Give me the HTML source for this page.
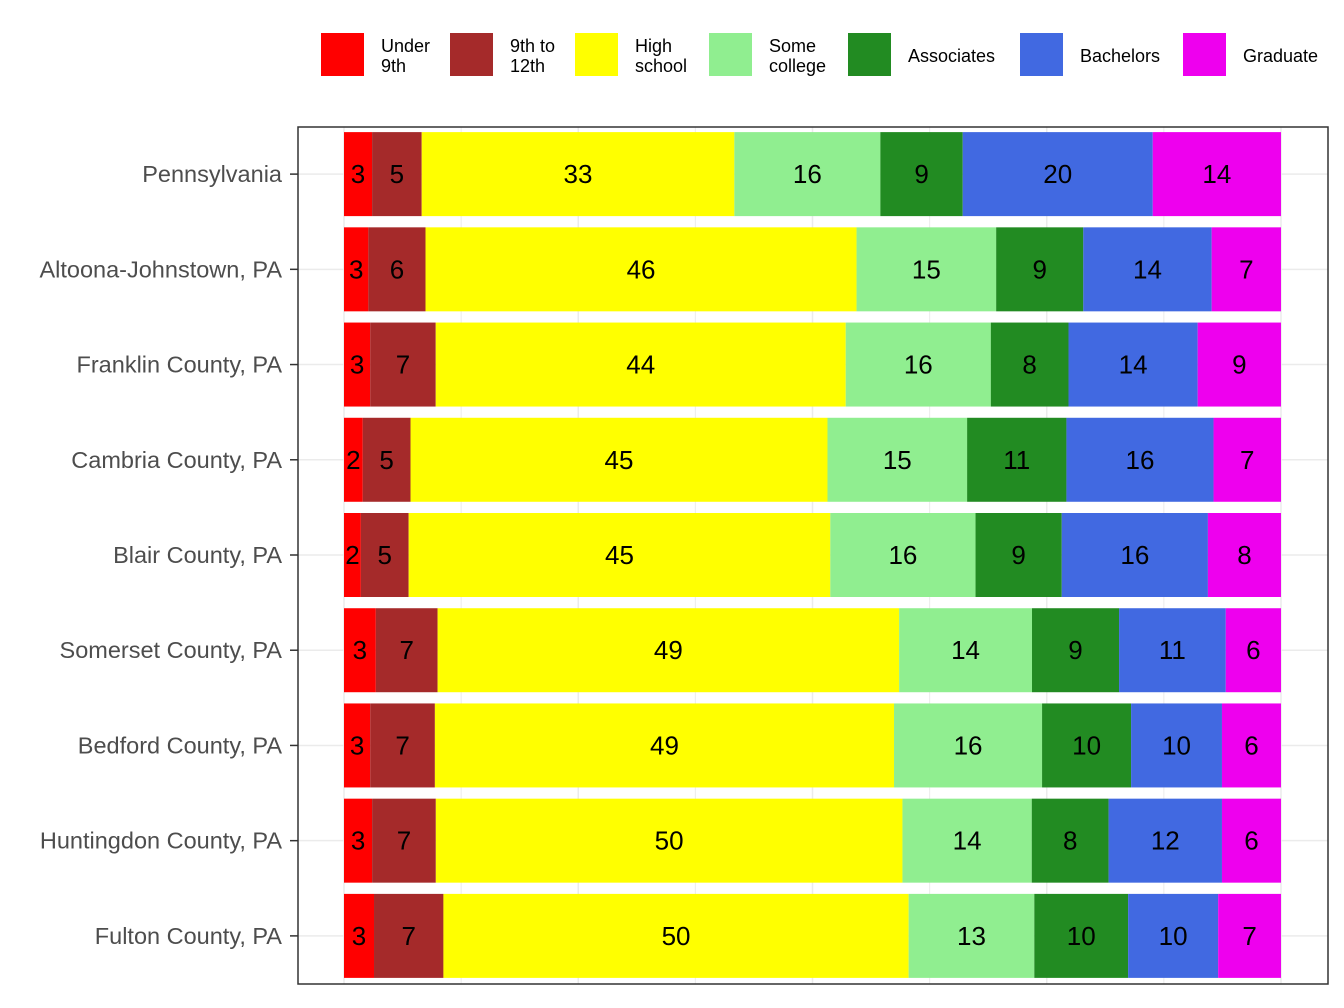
<!DOCTYPE html>
<html><head><meta charset="utf-8"><style>
html,body{margin:0;padding:0;background:#fff;}
svg{display:block;font-family:"Liberation Sans",Arial,sans-serif;}
</style></head><body>
<svg id="chart" width="1344" height="1008" viewBox="0 0 1344 1008" xmlns="http://www.w3.org/2000/svg"></svg>
<script>
const categories = ["Pennsylvania","Altoona-Johnstown, PA","Franklin County, PA","Cambria County, PA","Blair County, PA","Somerset County, PA","Bedford County, PA","Huntingdon County, PA","Fulton County, PA"];
const seriesNames = ["Under 9th","9th to 12th","High school","Some college","Associates","Bachelors","Graduate"];
const legendLines = [["Under","9th"],["9th to","12th"],["High","school"],["Some","college"],["Associates"],["Bachelors"],["Graduate"]];
const under9 = [3.0,2.6,2.8,2.0,1.8,3.4,2.8,3.0,3.2];
const grade9to12 = [5.3,6.1,7.0,5.1,5.1,6.6,6.9,6.8,7.4];
const highSchool = [33.4,46.0,43.8,44.5,45.0,49.3,49.0,49.8,49.6];
const someCollege = [15.6,14.9,15.5,14.9,15.5,14.2,15.8,13.8,13.4];
const associates = [8.8,9.3,8.3,10.6,9.2,9.3,9.5,8.2,10.0];
const bachelors = [20.3,13.7,13.8,15.7,15.6,11.4,9.7,12.1,9.6];
const graduate = [13.7,7.4,8.9,7.2,7.8,5.9,6.3,6.3,6.7];
const series = [under9,grade9to12,highSchool,someCollege,associates,bachelors,graduate];
const colors = ["#ff0000","#a52a2a","#ffff00","#90ee90","#228b22","#4169e1","#ee00ee"];

const NS="http://www.w3.org/2000/svg";
const svg=document.getElementById('chart');
function mk(tag,attrs,parent){const e=document.createElementNS(NS,tag);for(const k in attrs)e.setAttribute(k,attrs[k]);(parent||svg).appendChild(e);return e;}
const X0=344,X1=1281,PL=298,PR=1328,PT=127,PB=984;
const xs=v=>X0+(X1-X0)*v/100;
const rowStep=(PB-PT)/categories.length;
const yc=i=>PT+rowStep*(i+0.5)-0.5;
const BH=84;

// grid
for(let k=0;k<=8;k++){
  const g=mk('line',{x1:xs(k*12.5),x2:xs(k*12.5),y1:PT,y2:PB,stroke:'#ebebeb','stroke-width':k%2?1:1.5});
  
}
categories.forEach((c,i)=>{
  const g=mk('line',{x1:PL,x2:PR,y1:yc(i),y2:yc(i),stroke:'#ebebeb','stroke-width':1.5});
  
});

// bars
categories.forEach((c,i)=>{
  const vals=series.map(s=>s[i]);
  const tot=vals.reduce((a,b)=>a+b,0);
  let cum=0;
  vals.forEach((v,j)=>{
    const a=xs(cum/tot*100), b=xs((cum+v)/tot*100);
    const r=mk('rect',{x:a,y:yc(i)-BH/2,width:b-a,height:BH,fill:colors[j]});
    
    const t=mk('text',{x:(a+b)/2,y:yc(i)+9,'text-anchor':'middle','font-size':26,fill:'#000'});
    t.textContent=Math.round(v);
    
    cum+=v;
  });
  const tk=mk('line',{x1:PL-8,x2:PL,y1:yc(i),y2:yc(i),stroke:'#333','stroke-width':1.5});
  
  const lb=mk('text',{x:PL-16,y:yc(i)+8,'text-anchor':'end','font-size':23.5,fill:'#4d4d4d'});
  lb.textContent=c;
  
});
// panel border
const pb=mk('rect',{x:PL,y:PT,width:PR-PL,height:PB-PT,fill:'none',stroke:'#333','stroke-width':1.5});


// legend
const legX=[321,450,575,709,848,1020,1183];
seriesNames.forEach((n,j)=>{
  const g=mk('g',{});
  
  mk('rect',{x:legX[j],y:33,width:43,height:43,fill:colors[j]},g);
  const lines=legendLines[j];
  lines.forEach((l,k)=>{
    const t=mk('text',{x:legX[j]+60,y:(lines.length===1?62:52)+k*20,'font-size':18,fill:'#000'},g);
    t.textContent=l;
  });
});
</script>
</body></html>
